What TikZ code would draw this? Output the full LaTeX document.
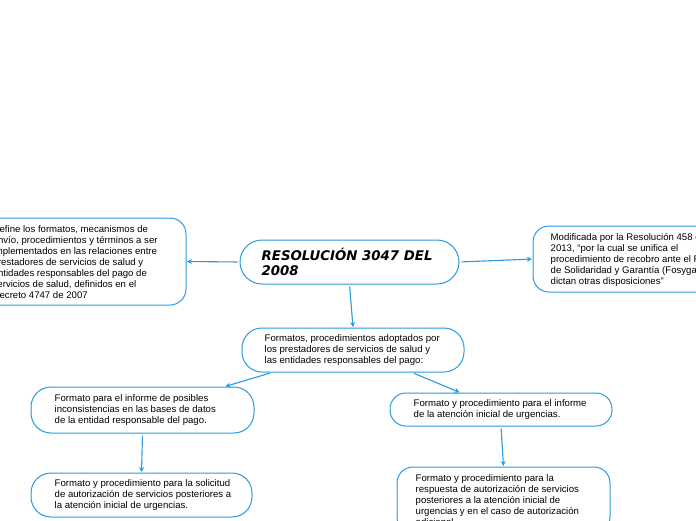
\documentclass[tikz,border=0pt]{standalone}
\usepackage{fontspec}
\setmainfont{Liberation Sans}
\newfontfamily\titlefont{DejaVu Sans}
\usetikzlibrary{arrows.meta}
\definecolor{lineblue}{RGB}{41,155,226}
\tikzset{
  box/.style={draw=lineblue, line width=1pt, fill=white, rounded corners=16pt, inner sep=0pt},
  txt/.style={anchor=west, align=left, inner sep=0pt, font=\fontsize{9.6}{11}\selectfont, text=black},
  ttl/.style={anchor=west, align=left, inner sep=0pt, font=\titlefont\bfseries\itshape\fontsize{13.3}{15}\selectfont, text=black},
  arr/.style={draw=lineblue, line width=1.1pt, -{Stealth[length=5pt,width=5pt]}, shorten <=2pt, shorten >=0.5pt}
}
\begin{document}
\begin{tikzpicture}[x=1pt,y=-1pt]
\useasboundingbox (0,0) rectangle (696,520);
\clip (0,0) rectangle (696,520);
\fill[white] (0,0) rectangle (696,520);
% boxes
\node[box, minimum width=217pt, minimum height=87pt] (L0) at (77.5,261.5) {};
\node[box, rounded corners=22pt, minimum width=219pt, minimum height=44pt] (C) at (349.5,262) {};
\node[box, minimum width=216pt, minimum height=66pt] (R0) at (641,259) {};
\node[box, rounded corners=20pt, minimum width=222pt, minimum height=44pt] (F) at (353,350) {};
\node[box, rounded corners=20pt, minimum width=223pt, minimum height=46pt] (L1) at (142.5,410) {};
\node[box, minimum width=222pt, minimum height=33pt] (R1) at (501,409.5) {};
\node[box, rounded corners=20pt, minimum width=221pt, minimum height=44pt] (L2) at (141.5,495) {};
\node[box, minimum width=213pt, minimum height=66pt] (R2) at (503.5,500) {};
% texts
\node[txt] (tL0) at ([xshift=24pt,yshift=-0.5pt]L0.west) {Define los formatos, mecanismos de\\envío, procedimientos y términos a ser\\implementados en las relaciones entre\\prestadores de servicios de salud y\\entidades responsables del pago de\\servicios de salud, definidos en el\\Decreto 4747 de 2007};
\node[ttl] (tC) at ([xshift=22pt]C.west) {RESOLUCIÓN 3047 DEL\\2008};
\node[txt] (tR0) at ([xshift=18pt,yshift=-0.5pt]R0.west) {Modificada por la Resolución 458 de\\2013, “por la cual se unifica el\\procedimiento de recobro ante el Fondo\\de Solidaridad y Garantía (Fosyga) y se\\dictan otras disposiciones”};
\node[txt] (tF) at ([xshift=23pt,yshift=-0.5pt]F.west) {Formatos, procedimientos adoptados por\\los prestadores de servicios de salud y\\las entidades responsables del pago:};
\node[txt] (tL1) at ([xshift=24pt,yshift=-0.5pt]L1.west) {Formato para el informe de posibles\\inconsistencias en las bases de datos\\de la entidad responsable del pago.};
\node[txt] (tR1) at ([xshift=24pt,yshift=-0.5pt]R1.west) {Formato y procedimiento para el informe\\de la atención inicial de urgencias.};
\node[txt] (tL2) at ([xshift=24pt,yshift=-0.5pt]L2.west) {Formato y procedimiento para la solicitud\\de autorización de servicios posteriores a\\la atención inicial de urgencias.};
\node[txt] (tR2) at ([xshift=19pt,yshift=-0.5pt]R2.west) {Formato y procedimiento para la\\respuesta de autorización de servicios\\posteriores a la atención inicial de\\urgencias y en el caso de autorización\\adicional.};
% connectors
\draw[arr] (C.west) -- (L0.east);
\draw[arr] (C.east) -- (R0.west);
\draw[arr] (C.south) -- (F.north);
\draw[arr] ([xshift=-81pt]F.south) -- ([xshift=82.5pt]L1.north);
\draw[arr] ([xshift=59pt]F.south) -- ([xshift=-41pt]R1.north);
\draw[arr] (L1.south) -- (L2.north);
\draw[arr] (R1.south) -- (R2.north);
\end{tikzpicture}
\end{document}
